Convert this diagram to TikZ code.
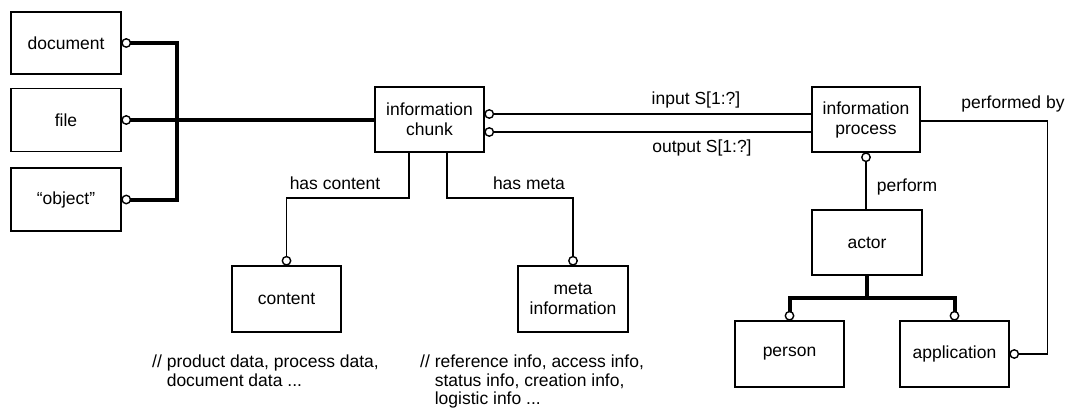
\documentclass[tikz,border=0pt]{standalone}
\usepackage{fontspec}
\setmainfont{Liberation Sans}
\usetikzlibrary{calc}
\newcommand\dgfont{\fontsize{17.5}{20}\selectfont}
\newcommand\dgnote{\fontsize{17.5}{18.5}\selectfont}
\begin{document}
\begin{tikzpicture}[x=1pt,y=-1pt,
  ent/.style={draw, line width=1.5pt, align=center, font=\dgfont, inner sep=2pt, minimum width=109pt, minimum height=65pt},
  lbl/.style={font=\dgfont, inner sep=0pt},
  note/.style={font=\dgnote, inner sep=0pt, align=left, anchor=north west},
  conn/.style={line width=1.6pt},
  thickl/.style={line width=4pt},
  ring/.style={draw, fill=white, line width=1.4pt}]
\useasboundingbox (0,0) rectangle (1071,417);

% entities
\node[ent, minimum width=110pt, minimum height=62pt] (doc) at (66,43) {document};
\node[ent, minimum width=110pt, minimum height=63pt] (file) at (66,120) {file};
\node[ent, minimum width=110pt, minimum height=63pt] (obj) at (66,199.5) {“object”};
\node[ent] (chunk) at (429.5,119.5) {information\\chunk};
\node[ent, minimum width=108pt] (proc) at (866,119.5) {information\\process};
\node[ent, minimum width=110pt] (actor) at (867,242.5) {actor};
\node[ent, minimum height=66pt] (content) at (286.5,299) {content};
\node[ent, minimum width=110pt, minimum height=66pt] (meta) at (573,299) {meta\\information};
\node[ent, minimum height=66pt] (person) at (789.5,354) {person};
\node[ent, minimum height=66pt] (app) at (954.5,354) {application};

% helper coordinates
\coordinate (cdoc) at ($(doc.east)+(4.5,0)$);
\coordinate (cfile) at ($(file.east)+(4.5,0)$);
\coordinate (cobj) at ($(obj.east)+(4.5,0)$);
\coordinate (busB) at (177,199.5);
\coordinate (yin) at (0,114);
\coordinate (yout) at (0,132);
\coordinate (ci) at ($(chunk.east |- yin)+(4.5,0)$);
\coordinate (co) at ($(chunk.east |- yout)+(4.5,0)$);
\coordinate (pb) at (1047.5,121);
\coordinate (capp) at ($(app.east)+(4.5,0)$);
\coordinate (cper) at ($(proc.south)+(0,4.5)$);
\coordinate (abus) at (867,298);
\coordinate (cperson) at ($(person.north)+(0,-4.5)$);
\coordinate (cappT) at ($(app.north)+(0,-4.5)$);
\coordinate (hc) at (409,198);
\coordinate (hm) at (447,198);
\coordinate (ccontent) at ($(content.north)+(0,-4.5)$);
\coordinate (cmeta) at ($(meta.north)+(0,-4.5)$);

% thick supertype lines
\draw[thickl, line join=miter] (cdoc) -| (busB) -- (cobj);
\draw[thickl] (cfile) -- (chunk.west |- cfile);
\draw[thickl] (actor.south) -- (abus);
\draw[thickl, line join=miter] (cperson) |- (abus) -| (cappT);

% thin relation lines
\draw[conn] (ci) -- (proc.west |- ci);
\draw[conn] (co) -- (proc.west |- co);
\draw[conn] (proc.east |- pb) -- (pb) |- (capp);
\draw[conn] (cper) -- (actor.north -| cper);
\draw[conn] (chunk.south -| hc) -- (hc) -| (ccontent);
\draw[conn] (chunk.south -| hm) -- (hm) -| (cmeta);

% rings
\foreach \c in {cdoc,cfile,cobj,ci,co,capp,cper,cperson,cappT,ccontent,cmeta}
  \draw[ring] (\c) circle[radius=4.2];

% labels
\node[lbl] (lin) at (696,100) {input S[1:?]};
\node[lbl] (lout) at (702,148) {output S[1:?]};
\node[lbl] (lpb) at (1013,104) {performed by};
\node[lbl] (lpf) at (907,187) {perform};
\node[lbl] (lhc) at (335,183) {has content};
\node[lbl] (lhm) at (529,183) {has meta};

% notes
\node[note] (ncont) at (152,355) {// product data, process data,\\\hphantom{// }document data ...};
\node[note] (nmeta) at (420,355) {// reference info, access info,\\\hphantom{// }status info, creation info,\\\hphantom{// }logistic info ...};
\end{tikzpicture}
\end{document}
